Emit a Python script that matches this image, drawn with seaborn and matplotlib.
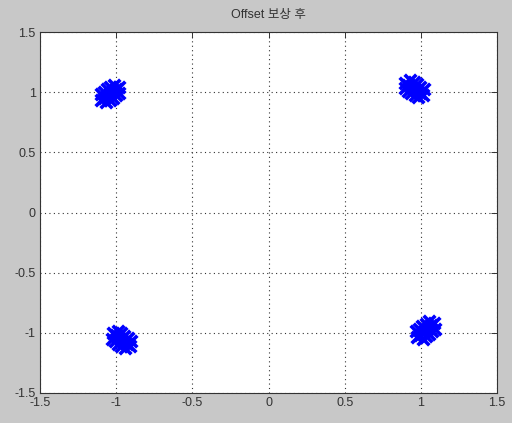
import pandas as pd
import seaborn as sns
import matplotlib.pyplot as plt

# Constellation after offset compensation - hand-read cluster samples (I/Q)
tl_x = [-1.099, -1.079, -1.060, -1.040, -1.020, -1.001, -0.981,
        -1.102, -1.080, -1.059, -1.037, -1.016,
        -1.064, -1.043, -1.021, -1.000, -0.978]
tl_y = [0.938, 0.955, 0.973, 0.990, 1.007, 1.025, 1.042,
        0.986, 1.005, 1.024, 1.043, 1.062,
        0.918, 0.937, 0.956, 0.975, 0.994]

tr_x = [0.895, 0.915, 0.935, 0.955, 0.975, 0.995, 1.015,
        0.930, 0.952, 0.973, 0.995, 1.017,
        0.893, 0.915, 0.937, 0.958, 0.980]
tr_y = [1.081, 1.064, 1.047, 1.030, 1.013, 0.996, 0.979,
        1.102, 1.083, 1.065, 1.046, 1.027,
        1.033, 1.014, 0.996, 0.977, 0.958]

bl_x = [-1.023, -1.004, -0.985, -0.966, -0.947, -0.928, -0.909,
        -0.987, -0.966, -0.946, -0.925, -0.904,
        -1.028, -1.007, -0.986, -0.966, -0.945]
bl_y = [-0.999, -1.018, -1.037, -1.056, -1.075, -1.094, -1.113,
        -0.982, -1.003, -1.023, -1.044, -1.064,
        -1.048, -1.068, -1.089, -1.110, -1.130]

br_x = [0.976, 0.994, 1.013, 1.031, 1.049, 1.068, 1.086,
        0.970, 0.990, 1.010, 1.030, 1.050,
        1.012, 1.032, 1.052, 1.072, 1.092]
br_y = [-1.036, -1.016, -0.997, -0.977, -0.958, -0.938, -0.919,
        -0.988, -0.966, -0.945, -0.924, -0.902,
        -1.052, -1.030, -1.009, -0.988, -0.966]

ticks = [-1.5, -1, -0.5, 0, 0.5, 1, 1.5]
tick_labels = ['-1.5', '-1', '-0.5', '0', '0.5', '1', '1.5']

df = pd.DataFrame({'I': tl_x + tr_x + bl_x + br_x,
                   'Q': tl_y + tr_y + bl_y + br_y})

sns.set_style('white')
plt.rcParams['font.family'] = ['Liberation Sans', 'Noto Sans CJK KR', 'DejaVu Sans']

fig = plt.figure(figsize=(5.12, 4.23), dpi=100, facecolor='#c8c8c8')
ax = fig.add_axes([0.078, 0.071, 0.893, 0.853])
ax.set_facecolor('white')

# big thick crosses so the samples merge into solid blobs
sns.scatterplot(data=df, x='I', y='Q', marker='x', color='#0000ff',
                s=70, linewidth=2.6, ax=ax, legend=False, zorder=3)

ax.set_xlim(-1.5, 1.5)
ax.set_ylim(-1.5, 1.5)
ax.set_xticks(ticks)
ax.set_yticks(ticks)
ax.set_xticklabels(tick_labels)
ax.set_yticklabels(tick_labels)
ax.set_xlabel('')
ax.set_ylabel('')
ax.grid(True, linestyle=(0, (1, 3)), color='#333333', linewidth=0.8)
ax.tick_params(direction='in', length=4, width=0.7, labelsize=9,
               top=True, right=True, colors='#333333', labelcolor='#333333', pad=3)
for sp in ax.spines.values():
    sp.set_color('#333333')
    sp.set_linewidth(0.8)

ax.set_title('Offset 보상 후', fontsize=9, pad=10, color='#333333')

fig.savefig('out.png', dpi=100, facecolor=fig.get_facecolor())
